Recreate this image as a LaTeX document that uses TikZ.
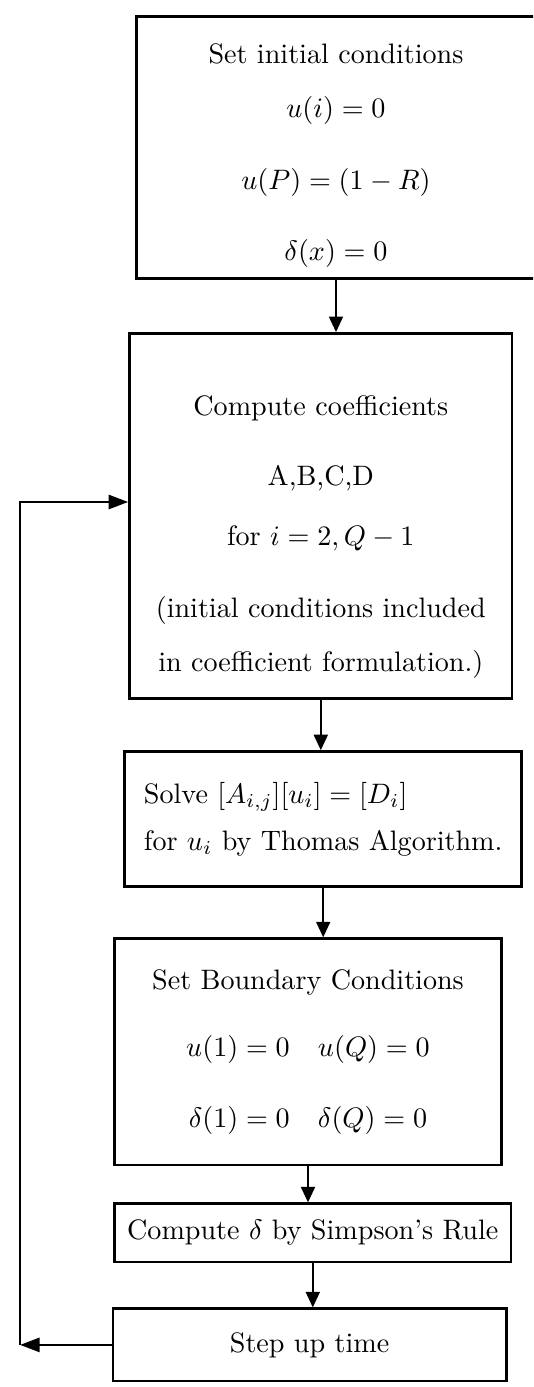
\documentclass[tikz,border=0pt]{standalone}
\usepackage{amsmath}
\usetikzlibrary{positioning,arrows.meta}

\begin{document}
\begin{tikzpicture}[x=0.0125cm, y=-0.0125cm,
  box/.style={draw, line width=1pt, align=center, inner sep=0pt},
  arr/.style={line width=0.6pt, -{Triangle[width=5pt,length=5.5pt]}},
  fb/.style={line width=1pt, -{Triangle[width=5pt,length=7pt]}}]
  \useasboundingbox (0,0) rectangle (533,1387);
  \clip (0,0) rectangle (533,1387);
  \node[box, minimum width=4.99cm, minimum height=3.2775cm] (init) at (336,147.5) {\rule{0pt}{12.5pt}Set initial conditions\\[7.5pt] $u(i) = 0$\\[13.5pt] $u(P) = (1 - R)$\\[13pt] $\delta(x) = 0$};
  \node[box, below=0.65cm of init, xshift=-0.19cm, minimum width=4.7775cm, minimum height=4.565cm] (coef) {\rule{0pt}{22pt}Compute coefficients\\[12.9pt] A,B,C,D\\[9.3pt] for $i = 2, Q - 1$\\[13.9pt] (initial conditions included\\[7.2pt] in coefficient formulation.)};
  \node[box, align=left, below=0.625cm of coef, xshift=0.03cm, minimum width=4.965cm, minimum height=1.69cm] (solve) {Solve $[A_{i,j}][u_i] = [D_i]$\\[4.7pt] for $u_i$ by Thomas Algorithm.};
  \node[box, below=0.6125cm of solve, xshift=-0.19cm, minimum width=4.8275cm, minimum height=2.8275cm] (bound) {Set Boundary Conditions\\[12pt] $u(1) = 0 \quad u(Q) = 0$\\[13pt] $\delta(1) = 0 \quad \delta(Q) = 0$};
  \node[box, below=0.45cm of bound, xshift=0.06cm, minimum width=4.9525cm, minimum height=0.7275cm] (simpson) {Compute $\delta$ by Simpson's Rule};
  \node[box, below=0.55cm of simpson, xshift=-0.04cm, minimum width=4.915cm, minimum height=0.9025cm] (step) {Step up time};
  % loop back to the coefficients
  \coordinate (back) at (20,502);
  \coordinate (ret) at (step.west -| back);
  \draw[arr] (init.south) -- (init.south |- coef.north);
  \draw[arr] (coef.south) -- (coef.south |- solve.north);
  \draw[arr] (solve.south) -- (solve.south |- bound.north);
  \draw[arr] (bound.south) -- (bound.south |- simpson.north);
  \draw[arr] (simpson.south) -- (simpson.south |- step.north);
  \draw[fb] (step.west) -- (ret);
  \draw[fb] (ret) -- (back) -- (back -| coef.west);
\end{tikzpicture}
\end{document}
